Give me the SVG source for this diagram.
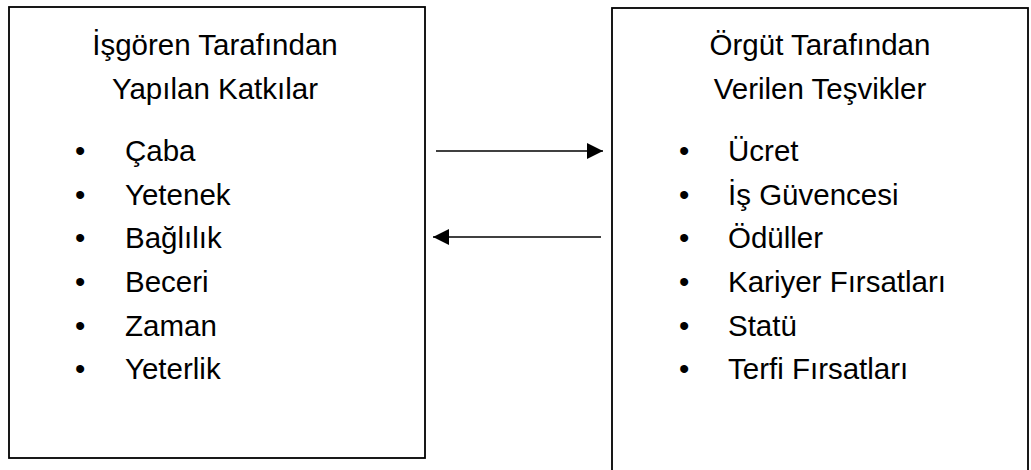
<svg xmlns="http://www.w3.org/2000/svg" width="1031" height="470" viewBox="0 0 1031 470">
<style>
.box{fill:#fff;stroke:#000;stroke-width:1.8}
text{font-family:"Liberation Sans",Arial,sans-serif;font-size:29.5px;fill:#000}
.t{text-anchor:middle}
.c{stroke:#000;stroke-width:1.6;fill:none}
</style>
<defs>
<marker id="ah" viewBox="0 0 16 16" refX="16" refY="8" markerWidth="16" markerHeight="16" markerUnits="userSpaceOnUse" orient="auto">
<path d="M0,0 L16,8 L0,16 Z" fill="#000"/>
</marker>
</defs>
<g id="left">
<rect class="box" x="9" y="7" width="416" height="451"/>
<text class="t" x="215" y="55">İşgören Tarafından</text>
<text class="t" x="215" y="99">Yapılan Katkılar</text>
<text x="75" y="161">•</text><text x="125" y="161">Çaba</text>
<text x="75" y="205">•</text><text x="125" y="205">Yetenek</text>
<text x="75" y="248">•</text><text x="125" y="248">Bağlılık</text>
<text x="75" y="292">•</text><text x="125" y="292">Beceri</text>
<text x="75" y="336">•</text><text x="125" y="336">Zaman</text>
<text x="75" y="379">•</text><text x="125" y="379">Yeterlik</text>
</g>
<g id="right">
<rect class="box" x="612" y="8" width="416" height="480"/>
<text class="t" x="820" y="55">Örgüt Tarafından</text>
<text class="t" x="820" y="99">Verilen Teşvikler</text>
<text x="679" y="161">•</text><text x="728" y="161">Ücret</text>
<text x="679" y="205">•</text><text x="728" y="205">İş Güvencesi</text>
<text x="679" y="248">•</text><text x="728" y="248">Ödüller</text>
<text x="679" y="292">•</text><text x="728" y="292">Kariyer Fırsatları</text>
<text x="679" y="336">•</text><text x="728" y="336">Statü</text>
<text x="679" y="379">•</text><text x="728" y="379">Terfi Fırsatları</text>
</g>
<g id="connectors">
<line class="c" x1="436" y1="151" x2="603" y2="151" marker-end="url(#ah)"/>
<line class="c" x1="601" y1="237" x2="433" y2="237" marker-end="url(#ah)"/>
</g>
</svg>
